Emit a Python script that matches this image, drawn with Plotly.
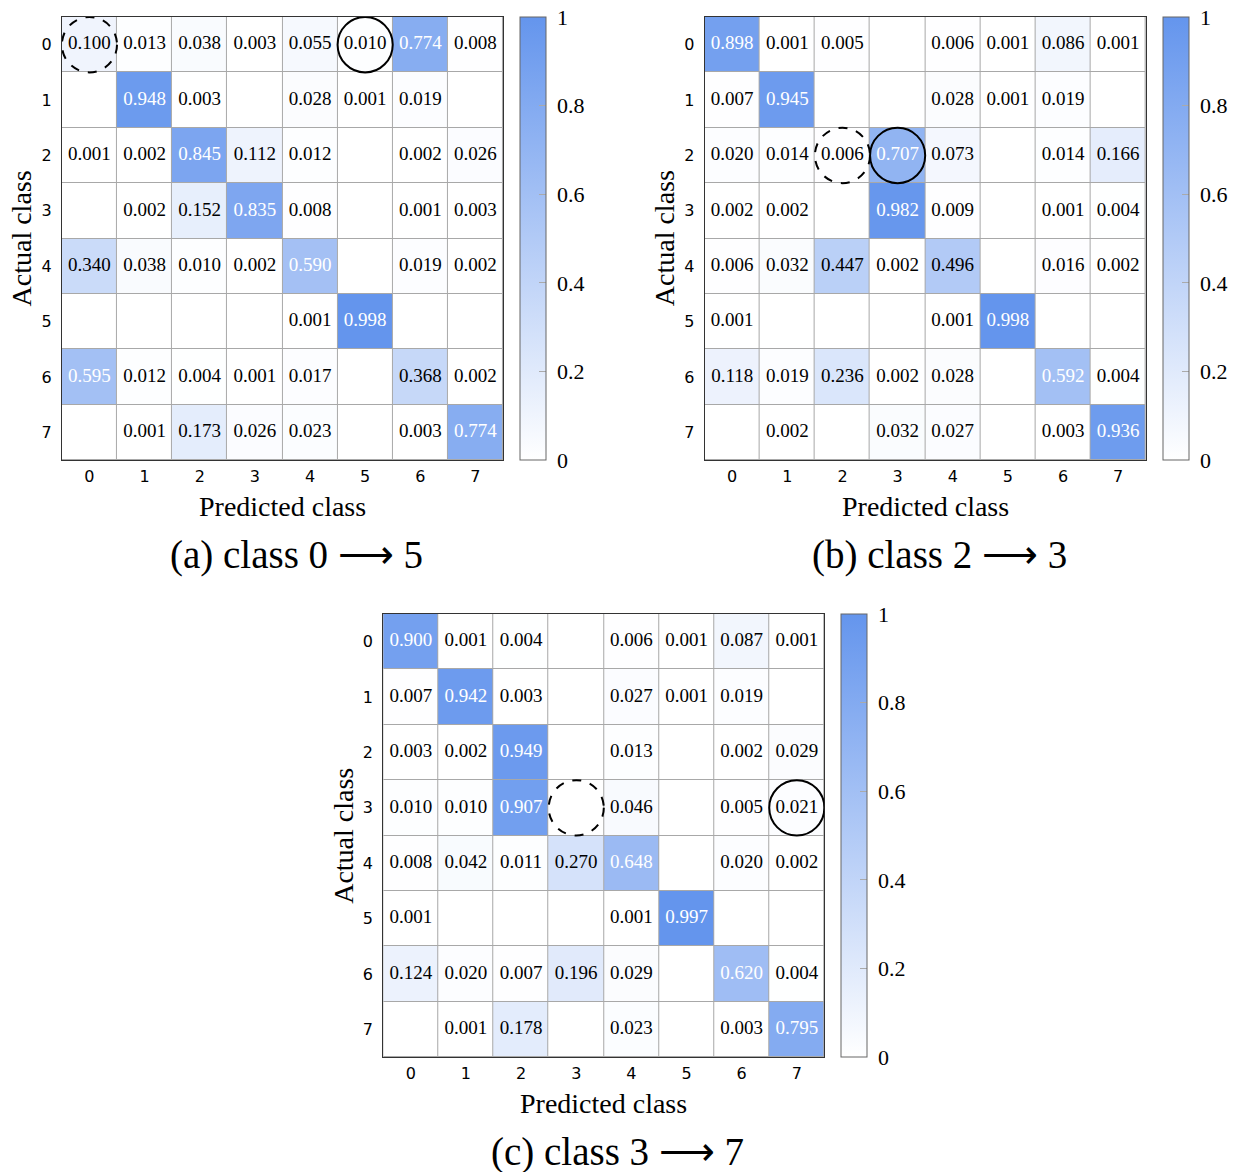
import plotly.graph_objects as go

classes = [0, 1, 2, 3, 4, 5, 6, 7]
tick_labels = ["0", "1", "2", "3", "4", "5", "6", "7"]
cbar_ticks = [0, 0.2, 0.4, 0.6, 0.8, 1]
cbar_labels = ["0", "0.2", "0.4", "0.6", "0.8", "1"]

N = None
matrix_a = [
    [0.100, 0.013, 0.038, 0.003, 0.055, 0.010, 0.774, 0.008],
    [N, 0.948, 0.003, N, 0.028, 0.001, 0.019, N],
    [0.001, 0.002, 0.845, 0.112, 0.012, N, 0.002, 0.026],
    [N, 0.002, 0.152, 0.835, 0.008, N, 0.001, 0.003],
    [0.340, 0.038, 0.010, 0.002, 0.590, N, 0.019, 0.002],
    [N, N, N, N, 0.001, 0.998, N, N],
    [0.595, 0.012, 0.004, 0.001, 0.017, N, 0.368, 0.002],
    [N, 0.001, 0.173, 0.026, 0.023, N, 0.003, 0.774],
]
matrix_b = [
    [0.898, 0.001, 0.005, N, 0.006, 0.001, 0.086, 0.001],
    [0.007, 0.945, N, N, 0.028, 0.001, 0.019, N],
    [0.020, 0.014, 0.006, 0.707, 0.073, N, 0.014, 0.166],
    [0.002, 0.002, N, 0.982, 0.009, N, 0.001, 0.004],
    [0.006, 0.032, 0.447, 0.002, 0.496, N, 0.016, 0.002],
    [0.001, N, N, N, 0.001, 0.998, N, N],
    [0.118, 0.019, 0.236, 0.002, 0.028, N, 0.592, 0.004],
    [N, 0.002, N, 0.032, 0.027, N, 0.003, 0.936],
]
matrix_c = [
    [0.900, 0.001, 0.004, N, 0.006, 0.001, 0.087, 0.001],
    [0.007, 0.942, 0.003, N, 0.027, 0.001, 0.019, N],
    [0.003, 0.002, 0.949, N, 0.013, N, 0.002, 0.029],
    [0.010, 0.010, 0.907, N, 0.046, N, 0.005, 0.021],
    [0.008, 0.042, 0.011, 0.270, 0.648, N, 0.020, 0.002],
    [0.001, N, N, N, 0.001, 0.997, N, N],
    [0.124, 0.020, 0.007, 0.196, 0.029, N, 0.620, 0.004],
    [N, 0.001, 0.178, N, 0.023, N, 0.003, 0.795],
]
matrices = [matrix_a, matrix_b, matrix_c]
source_class = [0, 2, 3]
target_class = [5, 3, 7]
panel_letters = ["a", "b", "c"]

W, H = 1235, 1172
KX = 1235 / 1227.4   # horizontal correction observed in rendering
# heatmap plot areas in pixels (left, right, top, bottom)
boxes = [(62, 504, 17, 460), (706, 1148, 17, 460), (384, 826, 614, 1057)]

SERIF = "Liberation Serif"
SANS = "DejaVu Sans"
BLUE = "rgb(100,149,237)"


def px(xp):
    return min(xp * KX / W, 1.0)


fig = go.Figure()
layout = dict(
    width=W, height=H, margin=dict(l=0, r=0, t=0, b=0),
    paper_bgcolor="white", plot_bgcolor="#a8a8a8",
    showlegend=False, annotations=[], shapes=[],
)

for i, (mat, box) in enumerate(zip(matrices, boxes)):
    l, r, t, b = box
    sfx = "" if i == 0 else str(i + 1)
    xa, ya = "x" + sfx, "y" + sfx
    ca = "coloraxis" + sfx
    z = [[(v if v is not None else 0.0) for v in row] for row in mat]
    fig.add_trace(go.Heatmap(
        z=z, x=classes, y=classes, coloraxis=ca, xaxis=xa, yaxis=ya,
        xgap=1, ygap=1, hoverinfo="skip",
    ))
    tx, ty, tt, tc = [], [], [], []
    for ri, row in enumerate(mat):
        for ci, v in enumerate(row):
            if v is None:
                continue
            tx.append(classes[ci]); ty.append(classes[ri])
            tt.append(f"{v:.3f}")
            tc.append("white" if v > 0.5 else "black")
    fig.add_trace(go.Scatter(
        x=tx, y=ty, text=tt, mode="text", xaxis=xa, yaxis=ya,
        textfont=dict(family=SERIF, size=19, color=tc), hoverinfo="skip",
    ))
    xd = [px(l), px(r)]
    yd = [1 - b / H, 1 - t / H]
    axcommon = dict(
        range=[-0.5, 7.5], showgrid=False, zeroline=False, showline=True,
        linecolor="#333333", linewidth=1, mirror=True, ticks="",
        tickvals=classes, ticktext=tick_labels,
        tickfont=dict(family=SANS, size=16, color="black"),
        ticklabelstandoff=2, fixedrange=True,
    )
    layout["xaxis" + sfx] = dict(axcommon, domain=xd, anchor=ya)
    layout["yaxis" + sfx] = dict(axcommon, domain=yd, anchor=xa,
                                 range=[7.5, -0.5], ticklabelstandoff=6)
    layout[ca] = dict(
        cmin=0, cmax=1,
        colorscale=[[0, "white"], [1, BLUE]],
        colorbar=dict(
            x=px(r + 17), xanchor="left", xpad=0, ypad=0,
            y=1 - (t + b) / 2 / H, yanchor="middle",
            len=b - t, lenmode="pixels", thickness=26,
            thicknessmode="pixels",
            outlinecolor="#666666", outlinewidth=1,
            tickvals=cbar_ticks,
            ticktext=["\u00a0" + s for s in cbar_labels],
            ticks="inside", ticklen=7, tickcolor="#aaaaaa",
            tickfont=dict(family=SERIF, size=22, color="black"),
        ),
    )
    cxp = (l + r) / 2
    layout["annotations"] += [
        dict(text="Predicted class", xref="paper", yref="paper",
             x=px(cxp), y=1 - (b + 46) / H, xanchor="center", yanchor="middle",
             showarrow=False, font=dict(family=SERIF, size=28, color="black")),
        dict(text="Actual class", xref="paper", yref="paper",
             x=px(l - 40), y=1 - (t + b) / 2 / H, xanchor="center",
             yanchor="middle", textangle=-90, showarrow=False,
             font=dict(family=SERIF, size=28, color="black")),
        dict(text=f"({panel_letters[i]}) class {source_class[i]} \u27f6 {target_class[i]}",
             xref="paper", yref="paper",
             x=px(cxp + 14), y=1 - (b + 95) / H, xanchor="center",
             yanchor="middle", showarrow=False,
             font=dict(family=SERIF, size=39, color="black")),
    ]
    s, tg = source_class[i], target_class[i]
    for col, dash in [(s, "dash"), (tg, "solid")]:
        layout["shapes"].append(dict(
            type="circle", xref=xa, yref=ya,
            x0=col - 0.5, x1=col + 0.5, y0=s - 0.5, y1=s + 0.5,
            line=dict(color="black", width=2, dash=dash),
        ))

fig.update_layout(**layout)
fig.write_html(
    "out.html",
    config={"displayModeBar": False},
    post_script="document.body.style.margin='0';document.body.style.overflow='hidden';",
)
